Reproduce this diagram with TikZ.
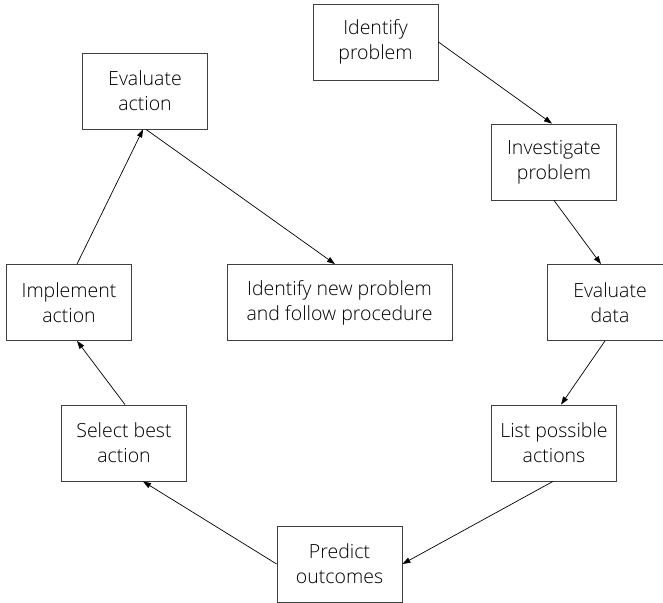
\documentclass[tikz,border=0pt]{standalone}
\usepackage{fontspec}
\setmainfont{Open Sans Light}
\usetikzlibrary{arrows.meta}
\begin{document}
\begin{tikzpicture}[x=1pt,y=-1pt,
  box/.style={draw=black!75,line width=0.8pt,fill=white,minimum width=125pt,minimum height=76pt,inner sep=0pt,align=center,font=\fontsize{19.5}{25}\selectfont},
  wide/.style={box,minimum width=225pt},
  arr/.style={line width=0.7pt,-{Triangle[length=8pt,width=5.5pt]}},
  ln/.style={line width=0.7pt}]
\useasboundingbox (0,0) rectangle (663,602);
\node[box] (idp) at (375.5,42) {Identify\\problem};
\node[box] (inv) at (554,162) {Investigate\\problem};
\node[box] (evd) at (610,302.5) {Evaluate\\data};
\node[box] (lpa) at (554,443) {List possible\\actions};
\node[box] (pro) at (339.5,564) {Predict\\outcomes};
\node[box] (sba) at (124,443) {Select best\\action};
\node[box] (ima) at (69,302.5) {Implement\\action};
\node[box] (eva) at (145,91) {Evaluate\\action};
\node[wide] (inp) at (339.5,302.5) {Identify new problem\\and follow procedure};
\draw[arr] (idp.east) -- ([xshift=-2pt]inv.north);
\draw[arr] (inv.south) -- ([xshift=-9pt]evd.north);
\draw[arr] ([xshift=-5pt]evd.south) -- ([xshift=7pt]lpa.north);
\draw[arr] ([xshift=-1pt]lpa.south) -- (pro.east);
\draw[arr] (pro.west) -- ([xshift=19pt]sba.south);
\draw[arr] ([xshift=1pt]sba.north) -- ([xshift=8pt]ima.south);
\draw[arr] ([xshift=8pt]ima.north) -- ([xshift=-2pt]eva.south);
\draw[arr] ([xshift=1pt]eva.south) -- ([xshift=-4.5pt]inp.north);
\end{tikzpicture}
\end{document}
